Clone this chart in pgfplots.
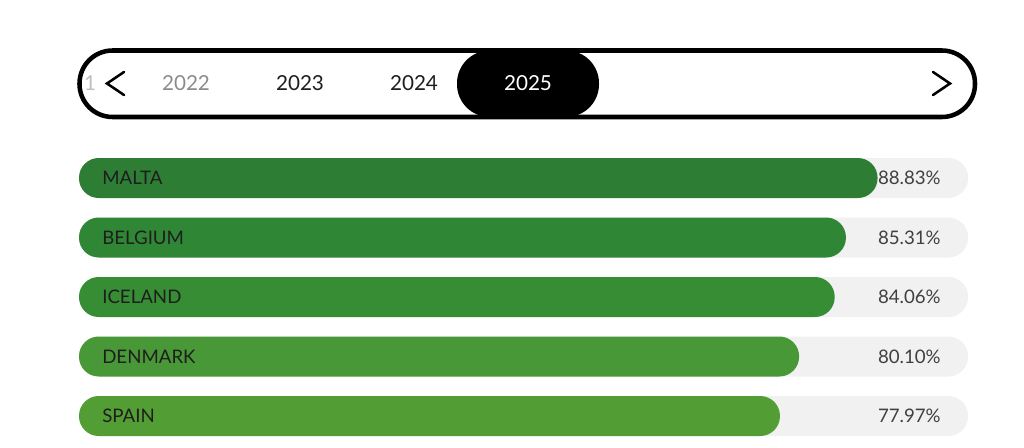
\documentclass[border=0pt]{standalone}
\usepackage{fontspec}
\setmainfont{Lato}
\usepackage{pgfplots}
\pgfplotsset{compat=1.18}
\definecolor{gMT}{RGB}{46,125,52}
\definecolor{gBE}{RGB}{47,135,53}
\definecolor{gIS}{RGB}{54,141,52}
\definecolor{gDK}{RGB}{73,152,55}
\definecolor{gES}{RGB}{83,158,52}
\definecolor{track}{RGB}{241,241,241}
\definecolor{txt}{RGB}{30,30,30}
\begin{document}
\begin{tikzpicture}[x=0.75pt,y=0.75pt]
\path (0,0) rectangle (1024,447);
% year selector
\fill[black,rounded corners=24.5pt] (457,330) rectangle (599,396.5);
\draw[line width=3.4pt,rounded corners=24.8pt] (79.5,330) rectangle (975,396.5);
\node[text=black!25,font=\fontsize{15.5}{18}\selectfont] at (90,364) {1};
\draw[line width=1.9pt,line cap=round,line join=miter] (124,375) -- (107,363.5) -- (124,352);
\draw[line width=1.9pt,line cap=round,line join=miter] (933,375) -- (950,363.5) -- (933,352);
\node[text=black!45,font=\fontsize{15.5}{18}\selectfont] at (186,364) {2022};
\node[text=txt,font=\fontsize{15.5}{18}\selectfont] at (300,364) {2023};
\node[text=txt,font=\fontsize{15.5}{18}\selectfont] at (414,364) {2024};
\node[text=white,font=\fontsize{15.5}{18}\selectfont] at (528,364) {2025};
\begin{axis}[
  at={(59.25pt,0pt)}, anchor=south west,
  scale only axis, width=674.25pt, height=335.25pt,
  xmin=0, xmax=100, ymin=-2.9916, ymax=4.521, y dir=reverse,
  axis lines=none, ticks=none, clip=false,
  xbar, bar shift=0pt, bar width=30pt,
]
\addplot[fill=track, draw=none, rounded corners=14.8pt] coordinates {(98.9,0) (98.9,1) (98.9,2) (98.9,3) (98.9,4)};
\addplot[fill=gMT, draw=none, rounded corners=14.8pt] coordinates {(88.83,0)};
\addplot[fill=gBE, draw=none, rounded corners=14.8pt] coordinates {(85.31,1)};
\addplot[fill=gIS, draw=none, rounded corners=14.8pt] coordinates {(84.06,2)};
\addplot[fill=gDK, draw=none, rounded corners=14.8pt] coordinates {(80.10,3)};
\addplot[fill=gES, draw=none, rounded corners=14.8pt] coordinates {(77.97,4)};
\foreach \n/\i in {MALTA/0,BELGIUM/1,ICELAND/2,DENMARK/3,SPAIN/4}{
  \edef\tmp{\noexpand\node[anchor=west,text=txt,font=\noexpand\fontsize{14}{16}\noexpand\selectfont,inner sep=0pt] at (axis cs:2.56,\i) {\n};}\tmp
}
\foreach \v/\i in {88.83/0,85.31/1,84.06/2,80.10/3,77.97/4}{
  \edef\tmp{\noexpand\node[anchor=east,text=txt!85!white,font=\noexpand\fontsize{14}{16}\noexpand\selectfont,inner sep=0pt] at (axis cs:95.88,\i) {\v\noexpand\%};}\tmp
}
\end{axis}
\end{tikzpicture}
\end{document}
